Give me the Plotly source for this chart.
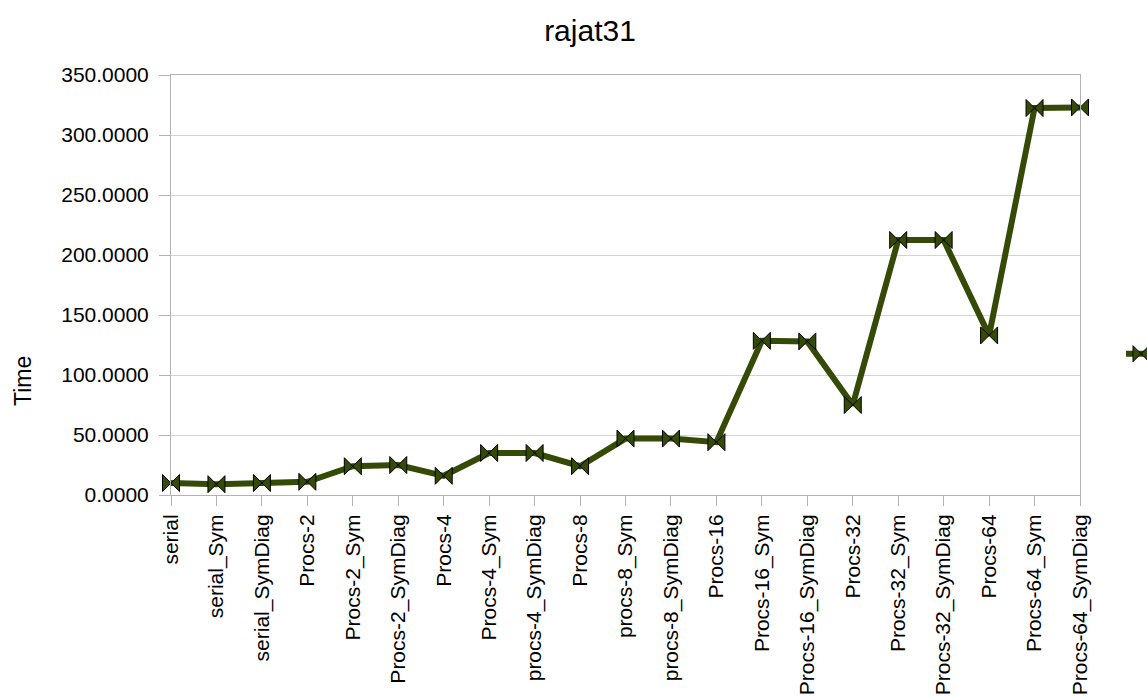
import plotly.graph_objects as go

# Run configurations (x axis) and measured times (y axis)
configs = [
    "serial", "serial_Sym", "serial_SymDiag",
    "Procs-2", "Procs-2_Sym", "Procs-2_SymDiag",
    "Procs-4", "Procs-4_Sym", "procs-4_SymDiag",
    "Procs-8", "procs-8_Sym", "procs-8_SymDiag",
    "Procs-16", "Procs-16_Sym", "Procs-16_SymDiag",
    "Procs-32", "Procs-32_Sym", "Procs-32_SymDiag",
    "Procs-64", "Procs-64_Sym", "Procs-64_SymDiag",
]
times = [
    10.0, 9.0, 10.0,
    11.0, 24.0, 25.0,
    16.0, 35.0, 35.0,
    24.0, 47.0, 47.0,
    44.0, 128.5, 128.0,
    75.0, 212.5, 212.5,
    133.0, 322.5, 323.0,
]
y_ticks = [0, 50, 100, 150, 200, 250, 300, 350]

W, H = 1147, 696
L, R, T, B = 171, 1080, 75, 495
FONT = "Liberation Sans, Arial, sans-serif"
OLIVE = "#354a06"
GRID = "#d3d3d3"
AXIS = "#b3b3b3"

def px_x(p):
    return (p - L) / (R - L)

def px_y(p):
    return (B - p) / (B - T)

fig = go.Figure()
fig.add_trace(go.Scatter(
    x=configs,
    y=times,
    mode="lines+markers",
    name="",
    line=dict(color=OLIVE, width=6),
    marker=dict(symbol="bowtie", size=17, color=OLIVE,
                line=dict(color="black", width=1)),
    cliponaxis=False,
))

fig.update_layout(
    width=W, height=H,
    margin=dict(l=L, r=W - R, t=T, b=H - B, autoexpand=False),
    paper_bgcolor="white",
    plot_bgcolor="white",
    font=dict(family=FONT, color="black", size=21),
    title=dict(text="rajat31", x=px_x(590), xref="paper", xanchor="center",
               y=1 - 30 / H, yref="container", yanchor="middle",
               font=dict(family=FONT, size=30, color="black")),
    showlegend=True,
    legend=dict(x=px_x(1121), y=px_y(354), xanchor="left", yanchor="middle",
                xref="paper", yref="paper", bgcolor="rgba(0,0,0,0)",
                font=dict(size=21)),
    xaxis=dict(
        type="category",
        categoryorder="array", categoryarray=configs,
        range=[0, len(configs) - 1],
        tickangle=-90,
        ticks="outside", ticklen=10, tickcolor=AXIS,
        tickfont=dict(family=FONT, size=21, color="black"),
        showgrid=False,
        showline=True, linecolor=AXIS, linewidth=1, mirror=True,
        zeroline=False,
    ),
    yaxis=dict(
        range=[0, 350],
        tickvals=y_ticks,
        tickformat=".4f",
        ticks="outside", ticklen=11, tickcolor=AXIS,
        ticklabelstandoff=6,
        tickfont=dict(family=FONT, size=21, color="black"),
        showgrid=True, gridcolor=GRID, gridwidth=1,
        showline=True, linecolor=AXIS, linewidth=1, mirror=True,
        zeroline=False,
    ),
    annotations=[dict(
        text="Time", textangle=-90,
        x=px_x(23), y=px_y(381), xref="paper", yref="paper",
        xanchor="center", yanchor="middle", showarrow=False,
        font=dict(family=FONT, size=23, color="black"),
    )],
)

fig.write_html("out.html")
